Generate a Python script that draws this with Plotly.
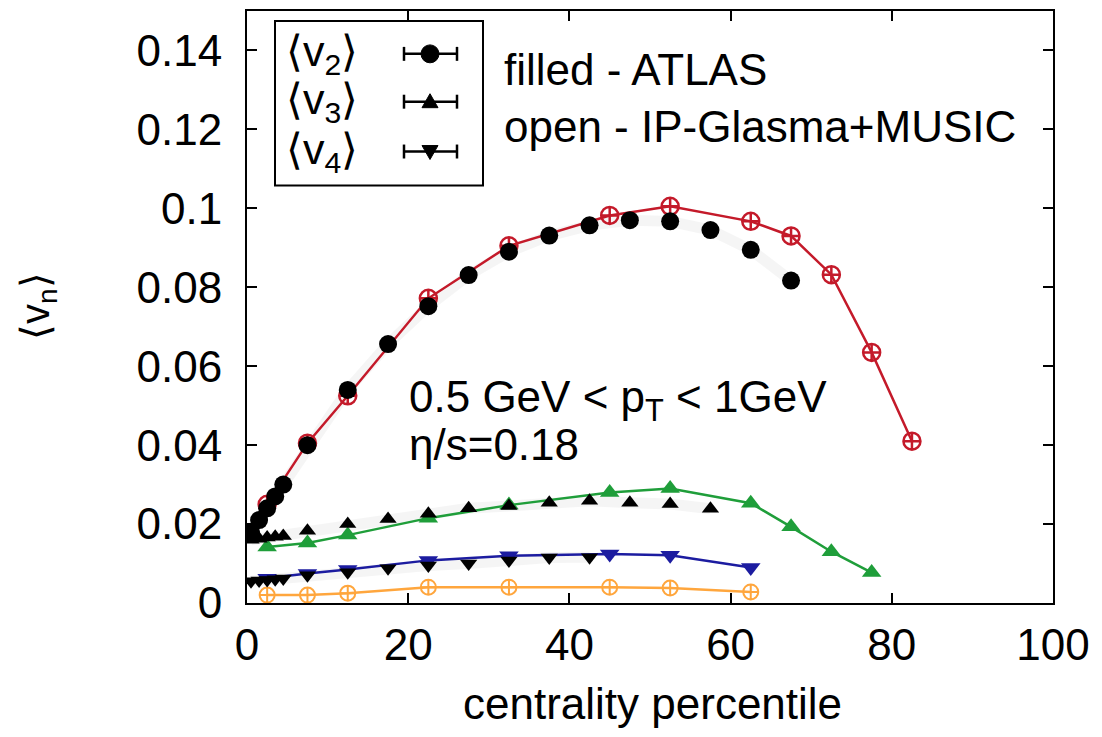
import plotly.graph_objects as go

# ---------------- data ----------------
cent_atlas = [0.5, 1.5, 2.5, 3.5, 4.5, 7.5, 12.5, 17.5, 22.5, 27.5, 32.5, 37.5,
              42.5, 47.5, 52.5, 57.5, 62.5, 67.5]
atlas_v2 = [0.018, 0.021, 0.024, 0.027, 0.030, 0.040, 0.054, 0.0656, 0.0752, 0.0831,
            0.0890, 0.0931, 0.0957, 0.0970, 0.0967, 0.0945, 0.0895, 0.0817]
atlas_v3 = [0.0160, 0.0163, 0.0166, 0.0168, 0.0170, 0.0183, 0.0200, 0.0213, 0.0226,
            0.0240, 0.0246, 0.0254, 0.0259, 0.0254, 0.0251, 0.0239]
atlas_v4 = [0.0055, 0.0057, 0.0058, 0.0060, 0.0062, 0.0070, 0.0078, 0.0088, 0.0095,
            0.0100, 0.0108, 0.0115, 0.0116]

cent_model = [2.5, 7.5, 12.5, 22.5, 32.5, 45, 52.5, 62.5, 67.5, 72.5, 77.5, 82.5]
model_v2 = [0.025, 0.0405, 0.0525, 0.0772, 0.0905, 0.0982, 0.1005, 0.0967, 0.0930,
            0.0832, 0.0635, 0.0410]
model_v3 = [0.0142, 0.0152, 0.0172, 0.0215, 0.0248, 0.0280, 0.0290, 0.0253, 0.0193,
            0.0130, 0.0077]
model_v4 = [0.0063, 0.0075, 0.0085, 0.0108, 0.0120, 0.0124, 0.0121, 0.0090]
model_v5 = [0.0020, 0.0020, 0.0025, 0.0040, 0.0040, 0.0040, 0.0038, 0.0028]

x_ticks = [0, 20, 40, 60, 80, 100]
y_ticks = [0, 0.02, 0.04, 0.06, 0.08, 0.1, 0.12, 0.14]
y_ticktext = ["0", "0.02", "0.04", "0.06", "0.08", "0.1", "0.12", "0.14"]

# ---------------- styling ----------------
W, H = 1102, 737
L, R, T, B = 247, 1053, 9, 603
FONT = "Liberation Sans, Arial, Helvetica, sans-serif"
RED = "#c41a2a"
GREEN = "#1f9e3a"
BLUE = "#1c1ca0"
ORANGE = "#ffa63d"


def px(xp):
    return (xp - L) / (R - L)


def py(yp):
    return (B - yp) / (B - T)


fig = go.Figure()

# ATLAS systematic bands (light grey)
for xs, ys in [(cent_atlas, atlas_v2), (cent_atlas[:len(atlas_v3)], atlas_v3),
               (cent_atlas[:len(atlas_v4)], atlas_v4)]:
    fig.add_trace(go.Scatter(x=xs, y=ys, mode="lines",
                             line=dict(color="rgba(0,0,0,0.04)", width=11),
                             hoverinfo="skip", showlegend=False))

# model curves
fig.add_trace(go.Scatter(x=cent_model[:len(model_v5)], y=model_v5, mode="lines+markers",
                         line=dict(color=ORANGE, width=2.5),
                         marker=dict(symbol="circle-cross-open", size=15, color=ORANGE,
                                     line=dict(width=2, color=ORANGE)),
                         showlegend=False))
fig.add_trace(go.Scatter(x=cent_model[:len(model_v4)], y=model_v4, mode="lines+markers",
                         line=dict(color=BLUE, width=2.5),
                         marker=dict(symbol="triangle-down", size=17, color=BLUE),
                         showlegend=False))
fig.add_trace(go.Scatter(x=cent_model[:len(model_v3)], y=model_v3, mode="lines+markers",
                         line=dict(color=GREEN, width=2.5),
                         marker=dict(symbol="triangle-up", size=17, color=GREEN),
                         showlegend=False))
fig.add_trace(go.Scatter(x=cent_model, y=model_v2, mode="lines+markers",
                         line=dict(color=RED, width=2.5),
                         marker=dict(symbol="circle-cross-open", size=17, color=RED,
                                     line=dict(width=2.5, color=RED)),
                         showlegend=False))

# ATLAS data (black filled)
fig.add_trace(go.Scatter(x=cent_atlas, y=atlas_v2, mode="markers",
                         marker=dict(symbol="circle", size=18, color="black"),
                         showlegend=False))
fig.add_trace(go.Scatter(x=cent_atlas[:len(atlas_v3)], y=atlas_v3, mode="markers",
                         marker=dict(symbol="triangle-up", size=15, color="black"),
                         showlegend=False))
fig.add_trace(go.Scatter(x=cent_atlas[:len(atlas_v4)], y=atlas_v4, mode="markers",
                         marker=dict(symbol="triangle-down", size=15, color="black"),
                         showlegend=False))

# ---------------- legend box (decoration) ----------------
shapes = [dict(type="rect", xref="paper", yref="paper",
               x0=px(275), x1=px(483), y0=py(184), y1=py(19),
               line=dict(color="black", width=2), fillcolor="white", layer="above")]
annotations = []
legend_rows = [("⟨v<sub>2</sub>⟩", 52, "circle"), ("⟨v<sub>3</sub>⟩", 100, "up"),
               ("⟨v<sub>4</sub>⟩", 150, "down")]
for label, yc, kind in legend_rows:
    annotations.append(dict(text=label, xref="paper", yref="paper", x=px(284), y=py(yc),
                            xanchor="left", yanchor="middle", showarrow=False,
                            font=dict(family=FONT, size=43, color="black")))
    # error bar sample
    shapes.append(dict(type="line", xref="paper", yref="paper", x0=px(404), x1=px(457),
                       y0=py(yc), y1=py(yc), line=dict(color="black", width=2.5),
                       layer="above"))
    for xe in (404, 457):
        shapes.append(dict(type="line", xref="paper", yref="paper", x0=px(xe), x1=px(xe),
                           y0=py(yc - 7), y1=py(yc + 7), line=dict(color="black", width=2.5),
                           layer="above"))
    if kind == "circle":
        shapes.append(dict(type="circle", xref="paper", yref="paper",
                           x0=px(421), x1=px(439), y0=py(yc + 9), y1=py(yc - 9),
                           fillcolor="black", line=dict(color="black", width=1),
                           layer="above"))
    else:
        if kind == "up":
            pts = [(430, yc - 8), (422, yc + 6), (438, yc + 6)]
        else:
            pts = [(430, yc + 8), (422, yc - 6), (438, yc - 6)]
        path = "M {} {} L {} {} L {} {} Z".format(
            px(pts[0][0]), py(pts[0][1]), px(pts[1][0]), py(pts[1][1]),
            px(pts[2][0]), py(pts[2][1]))
        shapes.append(dict(type="path", xref="paper", yref="paper", path=path,
                           fillcolor="black", line=dict(color="black", width=1),
                           layer="above"))

# ---------------- text ----------------
def add_text(text, x, y, size=44, xanchor="left", angle=0):
    annotations.append(dict(text=text, xref="paper", yref="paper", x=px(x), y=py(y),
                            xanchor=xanchor, yanchor="middle", showarrow=False,
                            textangle=angle,
                            font=dict(family=FONT, size=size, color="black")))


add_text("filled - ATLAS", 502, 68)
add_text("open - IP-Glasma+MUSIC", 502, 125)
add_text("0.5 GeV < p<sub>T</sub> < 1GeV", 407, 399)
add_text("η/s=0.18", 407, 444)
add_text("centrality percentile", 652, 704, xanchor="center")
add_text("⟨v<sub>n</sub>⟩", 38, 305, size=40, xanchor="center", angle=-90)

fig.update_layout(
    width=W, height=H,
    margin=dict(l=L, r=W - R, t=T, b=H - B, pad=0),
    paper_bgcolor="white", plot_bgcolor="white",
    font=dict(family=FONT, size=44, color="black"),
    shapes=shapes, annotations=annotations,
    showlegend=False,
)
fig.update_xaxes(range=[0, 100], tickvals=x_ticks, ticks="inside", ticklen=10,
                 tickwidth=2, tickcolor="black", showline=True, linecolor="black",
                 linewidth=2, mirror="ticks", showgrid=False, zeroline=False,
                 ticklabelstandoff=2, tickfont=dict(size=44, family=FONT, color="black"))
fig.update_yaxes(range=[0, 0.15], tickvals=y_ticks, ticktext=y_ticktext, ticks="inside",
                 ticklen=10, tickwidth=2, tickcolor="black", showline=True,
                 linecolor="black", linewidth=2, mirror="ticks", showgrid=False,
                 zeroline=False, ticklabelstandoff=14,
                 tickfont=dict(size=44, family=FONT, color="black"))

fig.write_html("out.html")
